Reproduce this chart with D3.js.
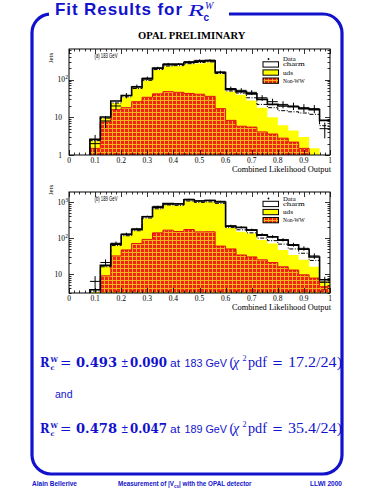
<!DOCTYPE html>
<html><head><meta charset="utf-8">
<script src="https://cdn.jsdelivr.net/npm/d3@7"></script>
<style>html,body{margin:0;padding:0;background:#fff}svg{display:block}</style>
</head><body>
<script>
// ---------- data ----------
const binLow = [0.00,0.04,0.08,0.12,0.16,0.20,0.24,0.28,0.32,0.36,0.40,0.44,0.48,0.52,0.56,0.60,0.64,0.68,0.72,0.76,0.80,0.84,0.88,0.92,0.96];
const binWidth = 0.04;

// 183 GeV
const nonWW183 = [0,0,1.5,7.5,16,18,26,34,42,48,46,43,41,36,17,8.3,5.8,5.5,4.1,3.6,2.8,2.2,1.5,0,0];
const uds183   = [0,0,0.8,2.0,8,16,32,61,138,177,184,212,229,249,123,39.7,34.2,22.5,13.9,6.4,3.4,2.3,1.5,1.5,0];
const charm183 = [0,0,0.3,0.7,3,4,6,10,20,25,25,30,35,30,15,7,8,14,12,12,13.8,14.5,14,14.5,8.3];
const alt183   = [0,0,2.4,9.5,24,35,58,96,185,230,235,265,285,295,145,50,44,33,22,18,15,14,13,12,6];
const data183  = [0,0,2,8,20,38,66,110,205,262,260,300,325,330,160,58,52,46,33,26,22,20,18,17,5];

// 189 GeV
const nonWW189 = [0,0,2,9,32,47,71,92,140,166,152,173,149,150,60,50,34,30,25,21,16,13,9.6,7.8,4.5];
const uds189   = [0,0,1.2,7,30,68,89,258,500,654,648,877,821,850,840,140,116,105,63,50,31,21,15.4,8.2,1.8];
const charm189 = [0,0,0.5,1.5,6,11,15,40,70,83,80,110,100,100,100,24,46,31,33,37,41,30,24,14,0.7];
const alt189   = [0,0,3.4,16,62,116,160,360,650,830,810,1070,980,1010,920,195,170,140,100,85,68,50,38,24,6];
const data189  = [0,0,6.3,21,72,130,180,400,760,880,900,1200,1080,1120,1050,220,200,170,125,110,90,66,52,32,6];

const xTickLabels = ["0","0.1","0.2","0.3","0.4","0.5","0.6","0.7","0.8","0.9","1"];
const xTickValues = [0,0.1,0.2,0.3,0.4,0.5,0.6,0.7,0.8,0.9,1];
const legendLabels = ["Data","charm","uds","Non-WW"];

const BLUE = "#1212cc";

// ---------- svg ----------
const svg = d3.select("body").append("svg").attr("width",375).attr("height",500);
const defs = svg.append("defs");
const pat = defs.append("pattern").attr("id","nonww").attr("width",4).attr("height",4)
  .attr("patternUnits","userSpaceOnUse");
pat.append("rect").attr("width",4).attr("height",4).attr("fill","#f6b41c");
pat.append("rect").attr("x",1).attr("y",1).attr("width",3).attr("height",3).attr("fill","#f02414");

const x = d3.scaleLinear().domain([0,1]).range([69,330]);

function drawPlot(o){
  const y = d3.scaleLog().domain(o.yDomain).range([o.bottom,o.top]);
  const yv = v => v <= 0 ? o.bottom + 6 : y(v);
  const cid = "clip" + o.id;
  defs.append("clipPath").attr("id",cid).append("rect")
    .attr("x",69).attr("y",o.top).attr("width",261).attr("height",o.bottom-o.top);
  const g = svg.append("g");
  const pg = g.append("g").attr("clip-path",`url(#${cid})`);

  const rows = binLow.map((b,i)=>({b, nonww:o.nonww[i], uds:o.uds[i], charm:o.charm[i]}));
  const stacked = d3.stack().keys(["nonww","uds","charm"])(rows);
  const fills = {nonww:"url(#nonww)", uds:"#ffff00", charm:"none"};
  const area = d3.area().curve(d3.curveStepAfter)
    .x(d=>x(d.x)).y0(d=>yv(d.lo)).y1(d=>yv(d.hi));
  stacked.forEach(layer=>{
    if(fills[layer.key]==="none") return;
    const pts = layer.map((d,i)=>({x:binLow[i], lo:d[0], hi:d[1]}));
    const last = pts[pts.length-1];
    pts.push({x:1, lo:last.lo, hi:last.hi});
    pg.append("path").attr("d",area(pts)).attr("fill",fills[layer.key]).attr("stroke","none");
  });
  const line = d3.line().curve(d3.curveStepAfter).x(d=>x(d.x)).y(d=>yv(d.v));
  function stepPts(arr){
    const p = arr.map((v,i)=>({x:binLow[i], v}));
    p.push({x:1, v:arr[arr.length-1]});
    return p;
  }
  pg.append("path").attr("d",line(stepPts(o.nonww))).attr("fill","none")
    .attr("stroke","#e01010").attr("stroke-width",1);
  pg.append("path").attr("d",line(stepPts(o.alt))).attr("fill","none")
    .attr("stroke","#000").attr("stroke-width",1).attr("stroke-dasharray","4,1.5,1,1.5");
  const total = binLow.map((b,i)=>o.nonww[i]+o.uds[i]+o.charm[i]);
  pg.append("path").attr("d",line(stepPts(total))).attr("fill","none")
    .attr("stroke","#000").attr("stroke-width",1.6);
  o.data.forEach((v,i)=>{
    if(v<=0) return;
    const e = Math.sqrt(v);
    const cx = x(binLow[i]+binWidth/2);
    pg.append("line").attr("x1",x(binLow[i])).attr("x2",x(binLow[i]+binWidth))
      .attr("y1",y(v)).attr("y2",y(v)).attr("stroke","#000").attr("stroke-width",1);
    pg.append("line").attr("x1",cx).attr("x2",cx)
      .attr("y1",y(v+e)).attr("y2",yv(v-e>0?v-e:0)).attr("stroke","#000").attr("stroke-width",1);
  });

  g.append("rect").attr("x",69).attr("y",o.top).attr("width",261).attr("height",o.bottom-o.top)
    .attr("fill","none").attr("stroke","#000").attr("stroke-width",1);
  const xMinor = d3.range(0,1.0001,0.02);
  xMinor.forEach(t=>{
    const major = Math.abs(Math.round(t*10)-t*10)<1e-6;
    const L = major?5:2.5;
    const px = Math.round(x(t))+0.5;
    g.append("line").attr("x1",px).attr("x2",px).attr("y1",o.bottom).attr("y2",o.bottom-L).attr("stroke","#000").attr("stroke-width",0.8);
    g.append("line").attr("x1",px).attr("x2",px).attr("y1",o.top).attr("y2",o.top+L).attr("stroke","#000").attr("stroke-width",0.8);
  });
  const [lo,hi] = o.yDomain;
  for(let d=Math.floor(Math.log10(lo)); d<=Math.ceil(Math.log10(hi)); d++){
    for(let k=1;k<=9;k++){
      const v = k*Math.pow(10,d);
      if(v<lo*0.999 || v>hi*1.001) continue;
      const L = k===1?5:2.5;
      const py = Math.round(y(v))+0.5;
      g.append("line").attr("x1",69).attr("x2",69+L).attr("y1",py).attr("y2",py).attr("stroke","#000").attr("stroke-width",0.8);
      g.append("line").attr("x1",330).attr("x2",330-L).attr("y1",py).attr("y2",py).attr("stroke","#000").attr("stroke-width",0.8);
    }
  }
  o.yLabels.forEach(l=>{
    g.append("text").attr("x",l.exp?65:62).attr("y",y(l.v)+2.5)
      .attr("text-anchor","end").attr("font-family","Liberation Serif").attr("font-size",7.5).text(l.base);
    if(l.exp){
      g.append("text").attr("x",65.3).attr("y",y(l.v)-0.5).attr("font-family","Liberation Serif")
        .attr("font-size",5.5).text(l.exp);
    }
  });
  xTickValues.forEach((t,i)=>{
    g.append("text").attr("x",x(t)).attr("y",o.bottom+7.8).attr("text-anchor","middle")
      .attr("font-family","Liberation Serif").attr("font-size",7.5).text(xTickLabels[i]);
  });
  g.append("text").attr("x",331).attr("y",o.bottom+16.5).attr("text-anchor","end")
    .attr("font-family","Liberation Serif").attr("font-size",8.4).text("Combined Likelihood Output");
  g.append("text").attr("transform",`translate(52.5,${o.jetsY}) rotate(-90)`).attr("text-anchor","middle")
    .attr("font-family","Liberation Serif").attr("font-size",7).text("Jets");
  g.append("text").attr("x",94.5).attr("y",o.top+9.3).attr("font-family","Liberation Sans")
    .attr("font-size",7).attr("textLength",23).attr("lengthAdjust","spacingAndGlyphs").text(o.label);
  const ly = o.legendTop;
  const lw = [12.7,21.7,10,21.7];
  g.append("circle").attr("cx",268.5).attr("cy",ly).attr("r",0.9).attr("fill","#000");
  g.append("text").attr("x",283).attr("y",ly+2).attr("font-family","Liberation Serif").attr("font-size",6)
    .attr("textLength",lw[0]).attr("lengthAdjust","spacingAndGlyphs").text(legendLabels[0]);
  const boxes = ["#fff","#ffff00","url(#nonww)"];
  boxes.forEach((f,i)=>{
    const by = ly + 2.8 + i*8.1;
    g.append("rect").attr("x",263).attr("y",by).attr("width",15.5).attr("height",5.3)
      .attr("fill",f).attr("stroke","#000").attr("stroke-width",1);
    g.append("text").attr("x",283).attr("y",by+4.6).attr("font-family","Liberation Serif").attr("font-size",6)
      .attr("textLength",lw[i+1]).attr("lengthAdjust","spacingAndGlyphs").text(legendLabels[i+1]);
  });
}

drawPlot({id:"a", top:49, bottom:155, yDomain:[1,650], nonww:nonWW183, uds:uds183, charm:charm183,
  alt:alt183, data:data183, label:"(a) 183 GeV", jetsY:58, legendTop:59,
  yLabels:[{v:1,base:"1"},{v:10,base:"10"},{v:100,base:"10",exp:"2"}]});
drawPlot({id:"b", top:192, bottom:293, yDomain:[3,1900], nonww:nonWW189, uds:uds189, charm:charm189,
  alt:alt189, data:data189, label:"(b) 189 GeV", jetsY:190, legendTop:198.5,
  yLabels:[{v:10,base:"10"},{v:100,base:"10",exp:"2"},{v:1000,base:"10",exp:"3"}]});

// ---------- header ----------
svg.append("text").attr("x",191.7).attr("y",39.3).attr("text-anchor","middle")
  .attr("font-family","Liberation Serif").attr("font-weight","bold").attr("font-size",10.6)
  .text("OPAL PRELIMINARY");

svg.append("text").attr("x",55).attr("y",15.4).attr("font-family","Liberation Sans").attr("font-weight","bold")
  .attr("font-size",17).attr("fill",BLUE).attr("textLength",127).attr("lengthAdjust","spacing").text("Fit Results for");
svg.append("text").attr("x",188).attr("y",15.6).attr("font-family","Liberation Serif").attr("font-style","italic")
  .attr("font-size",17.5).attr("fill",BLUE).attr("textLength",16).attr("lengthAdjust","spacingAndGlyphs").text("R");
svg.append("text").attr("x",205).attr("y",9.4).attr("font-family","Liberation Serif").attr("font-style","italic")
  .attr("font-size",10).attr("fill",BLUE).text("W");
svg.append("text").attr("x",203.5).attr("y",20.5).attr("font-family","Liberation Sans").attr("font-weight","bold")
  .attr("font-size",10).attr("fill",BLUE).text("c");

// ---------- results ----------
function resultLine(yb, val, err, energy, chi){
  const S = "DejaVu Serif";
  const t = (xx,yy,txt,opt={})=> svg.append("text").attr("x",xx).attr("y",yy).attr("fill",BLUE)
     .attr("font-family",opt.f||S).attr("font-size",opt.s||12).attr("font-weight",opt.w||"normal")
     .attr("font-style",opt.i||"normal").text(txt);
  t(40,yb,"R",{w:"bold",s:12.5}).attr("textLength",9.5).attr("lengthAdjust","spacingAndGlyphs");
  t(50.5,yb-5.5,"W",{w:"bold",s:6.5});
  t(50.5,yb+2.5,"c",{w:"bold",s:6.5});
  t(60,yb,"=",{s:12}).attr("textLength",11.5).attr("lengthAdjust","spacingAndGlyphs");
  t(76,yb,val,{w:"bold",s:12}).attr("textLength",41).attr("lengthAdjust","spacingAndGlyphs");
  t(121,yb,"±",{s:12}).attr("textLength",7.5).attr("lengthAdjust","spacingAndGlyphs");
  t(130,yb,err,{w:"bold",s:12}).attr("textLength",37).attr("lengthAdjust","spacingAndGlyphs");
  t(170,yb,"at",{f:"Liberation Sans",s:11.5}).attr("textLength",10).attr("lengthAdjust","spacingAndGlyphs");
  t(184.5,yb,energy+" GeV",{f:"Liberation Sans",s:11.5}).attr("textLength",42.5).attr("lengthAdjust","spacingAndGlyphs");
  t(229.5,yb,"(",{f:"Liberation Serif",s:14});
  t(233,yb,"χ",{f:"Liberation Serif",s:14,i:"italic"});
  t(242.5,yb-6,"2",{f:"Liberation Serif",s:8});
  t(248,yb,"pdf",{f:"Liberation Serif",s:14}).attr("textLength",19).attr("lengthAdjust","spacingAndGlyphs");
  t(272,yb,"=",{s:12}).attr("textLength",11).attr("lengthAdjust","spacingAndGlyphs");
  t(288,yb,chi,{f:"Liberation Serif",s:14}).attr("textLength",54).attr("lengthAdjust","spacingAndGlyphs");
}
resultLine(367.3,"0.493","0.090","183","17.2/24)");
svg.append("text").attr("x",55).attr("y",398.3).attr("fill",BLUE).attr("font-family","Liberation Sans")
  .attr("font-size",10.5).text("and");
resultLine(433.3,"0.478","0.047","189","35.4/24)");

// ---------- border ----------
svg.append("path").attr("d","M229,14 L323,14 A19,19 0 0 1 342,33 L342,455 A19,19 0 0 1 323,474 L51,474 A19,19 0 0 1 32,455 L32,33 A19,19 0 0 1 49,14.1")
  .attr("fill","none").attr("stroke",BLUE).attr("stroke-width",3.2);

// ---------- footer ----------
const ft = (xx,txt,len)=> svg.append("text").attr("x",xx).attr("y",486).attr("fill",BLUE)
  .attr("font-family","Liberation Sans").attr("font-weight","bold").attr("font-size",6.3)
  .attr("textLength",len).attr("lengthAdjust","spacingAndGlyphs").text(txt);
ft(32,"Alain Bellerive",45);
const mt = svg.append("text").attr("x",118).attr("y",486).attr("fill",BLUE)
  .attr("font-family","Liberation Sans").attr("font-weight","bold").attr("font-size",6.3);
mt.append("tspan").text("Measurement of |V");
mt.append("tspan").attr("font-size",4.5).attr("dy",1.5).text("cs");
mt.append("tspan").attr("dy",-1.5).text("| with the OPAL detector");
ft(310,"LLWI 2000",32);
</script>
</body></html>
